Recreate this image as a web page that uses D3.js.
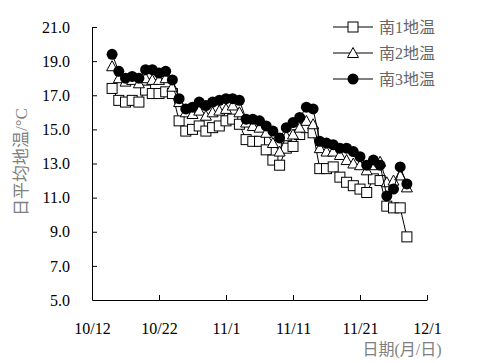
<!DOCTYPE html>
<html>
<head>
<meta charset="utf-8">
<script src="https://cdn.jsdelivr.net/npm/d3@7"></script>
<style>
  body { margin: 0; background: #fff; }
  svg { display: block; }
</style>
</head>
<body>
<svg width="478" height="363"></svg>
<script>
// dates (month/day), daily readings
const dates = ["10/15","10/16","10/17","10/18","10/19","10/20","10/21","10/22","10/23","10/24",
  "10/25","10/26","10/27","10/28","10/29","10/30","10/31","11/1","11/2","11/3",
  "11/4","11/5","11/6","11/7","11/8","11/9","11/10","11/11","11/12","11/13",
  "11/14","11/15","11/16","11/17","11/18","11/19","11/20","11/21","11/22","11/23",
  "11/24","11/25","11/26","11/27","11/28"];
const south1 = [17.4,16.7,16.6,16.7,16.6,17.3,17.1,17.1,17.2,17.1,
  15.5,14.9,15.0,15.2,14.9,15.1,15.2,15.5,15.6,15.3,
  14.4,14.3,14.3,13.8,13.2,12.9,13.9,14.0,14.7,15.1,
  14.8,12.7,12.7,12.8,12.2,11.9,11.7,11.5,11.3,12.1,
  12.0,10.5,10.4,10.4,8.7];
const south2 = [18.7,18.0,17.8,17.9,17.7,18.0,17.9,17.9,18.0,17.5,
  16.6,16.0,15.9,16.1,15.8,16.0,16.1,16.2,16.4,16.0,
  15.4,15.2,15.1,14.8,14.2,13.7,14.6,14.7,15.1,15.5,
  15.3,13.9,13.7,13.7,13.5,13.2,13.0,12.9,12.6,12.9,
  13.1,11.9,12.0,12.3,11.6];
const south3 = [19.4,18.4,18.0,18.1,18.0,18.5,18.5,18.3,18.4,17.9,
  16.8,16.2,16.3,16.6,16.4,16.6,16.7,16.8,16.8,16.7,
  15.6,15.6,15.5,15.2,14.9,14.5,15.1,15.4,15.7,16.3,
  16.2,14.3,14.2,14.1,13.9,13.9,13.7,13.4,12.9,13.2,
  12.9,11.1,11.5,12.8,11.8];
const seriesNames = ["南1地温", "南2地温", "南3地温"];
const xTickLabels = ["10/12", "10/22", "11/1", "11/11", "11/21", "12/1"];
const yTicks = [5, 7, 9, 11, 13, 15, 17, 19, 21];

const SERIF = "'Liberation Serif', 'Times New Roman', serif";
const CJK = "'Liberation Serif', 'Noto Sans CJK SC', serif";

const YEAR = 2012;
function toDate(s) {
  const p = s.split("/");
  return new Date(Date.UTC(YEAR, +p[0] - 1, +p[1]));
}

const svg = d3.select("svg");
const plotLeft = 92, plotRight = 427, plotTop = 27, plotBottom = 300;

const x = d3.scaleUtc()
  .domain([toDate("10/12"), toDate("12/1")])
  .range([plotLeft, plotRight]);
const y = d3.scaleLinear().domain([5, 21]).range([plotBottom, plotTop]);

// axes, ticks point inward
const yAxis = svg.append("g").attr("transform", `translate(${plotLeft},0)`)
  .call(d3.axisLeft(y).tickValues(yTicks).tickSizeInner(-5).tickSizeOuter(0)
    .tickFormat(d3.format(".1f")).tickPadding(22));
const xAxis = svg.append("g").attr("transform", `translate(0,${plotBottom})`)
  .call(d3.axisBottom(x).tickValues(xTickLabels.map(toDate)).tickSizeInner(-5).tickSizeOuter(0)
    .tickFormat((d, i) => xTickLabels[i]).tickPadding(23));
[yAxis, xAxis].forEach(g => {
  g.attr("font-family", SERIF).attr("font-size", 16);
  g.select(".domain").attr("stroke", "#000");
  g.selectAll(".tick line").attr("stroke", "#000");
  g.selectAll("text").attr("fill", "#000").style("font-weight", "normal");
});
yAxis.selectAll(".tick").filter(d => d === 5).select("line").remove();
xAxis.selectAll(".tick").filter((d, i) => i === 0).select("line").remove();

// axis titles
svg.append("text")
  .attr("transform", "translate(27,162) rotate(-90)")
  .attr("text-anchor", "middle")
  .attr("font-family", CJK).attr("font-size", 17).attr("fill", "#808080")
  .text("日平均地温/°C");
svg.append("text")
  .attr("x", 402).attr("y", 355)
  .attr("text-anchor", "middle")
  .attr("font-family", CJK).attr("font-size", 16).attr("fill", "#808080")
  .text("日期(月/日)");

const series = [south1, south2, south3].map((vals, k) => ({
  name: seriesNames[k],
  points: vals.map((v, i) => ({ date: toDate(dates[i]), value: v }))
}));

const line = d3.line().x(d => x(d.date)).y(d => y(d.value));

function drawMarker(g, k, cx, cy) {
  if (k === 0) {
    g.append("rect").attr("x", cx - 5).attr("y", cy - 5).attr("width", 10).attr("height", 10)
      .attr("fill", "#fff").attr("stroke", "#000").attr("stroke-width", 1);
  } else if (k === 1) {
    g.append("path")
      .attr("d", `M${cx},${cy - 5.5}L${cx + 5.5},${cy + 4.5}L${cx - 5.5},${cy + 4.5}Z`)
      .attr("fill", "#fff").attr("stroke", "#000").attr("stroke-width", 1);
  } else {
    g.append("circle").attr("cx", cx).attr("cy", cy).attr("r", 5.5).attr("fill", "#000");
  }
}

series.forEach((s, k) => {
  const g = svg.append("g");
  g.append("path").datum(s.points).attr("d", line)
    .attr("fill", "none").attr("stroke", "#000").attr("stroke-width", 1);
  s.points.forEach(p => drawMarker(g, k, x(p.date), y(p.value)));
});

// legend
const legendRows = [27, 53, 79];
seriesNames.forEach((name, k) => {
  const g = svg.append("g");
  const ly = legendRows[k];
  g.append("line").attr("x1", 333).attr("x2", 373).attr("y1", ly).attr("y2", ly)
    .attr("stroke", "#000").attr("stroke-width", 1);
  drawMarker(g, k, 353, ly);
  g.append("text").attr("x", 379).attr("y", ly + 6)
    .attr("font-family", CJK).attr("font-size", 16).attr("fill", "#666")
    .text(name);
});
</script>
</body>
</html>
